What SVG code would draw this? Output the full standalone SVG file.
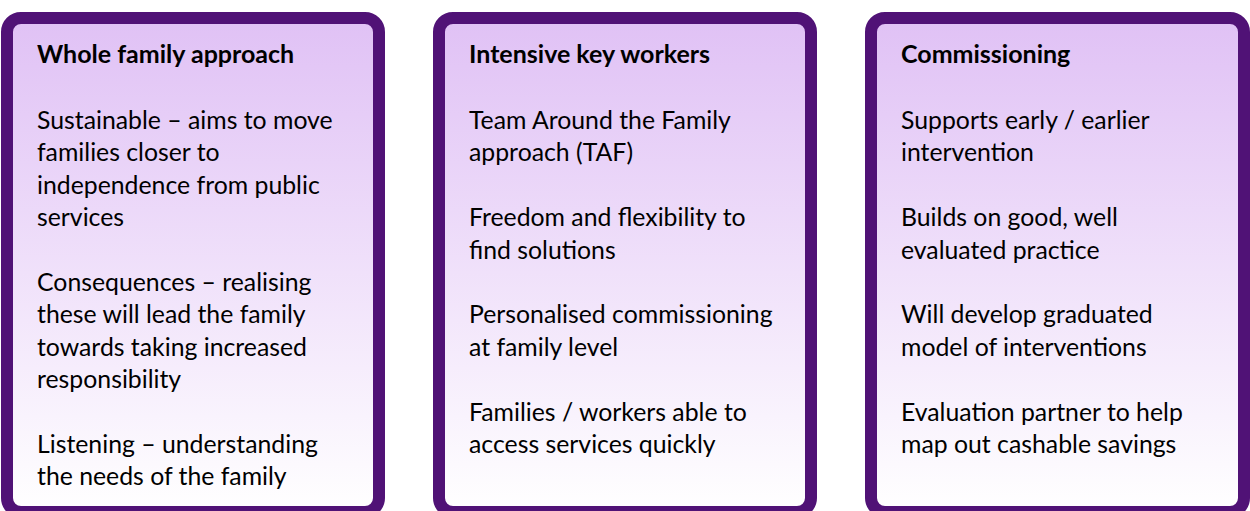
<svg xmlns="http://www.w3.org/2000/svg" width="1250" height="511" viewBox="0 0 1250 511">
<defs>
<linearGradient id="fill" x1="0" y1="0" x2="0" y2="1">
<stop offset="0" stop-color="#E0C1F5"/>
<stop offset="1" stop-color="#FFFFFF"/>
</linearGradient>
<style>
.box{fill:url(#fill);stroke:#501276;stroke-width:12}
.t{font-family:Lato,"Open Sans",sans-serif;font-size:24.8px;fill:#000}
.h{font-family:Lato,"Open Sans",sans-serif;font-size:25px;font-weight:bold;fill:#000}
</style>
</defs>
<rect width="1250" height="511" fill="#FFFFFF"/>
<g id="node-whole-family">
<rect class="box" x="7" y="18" width="372" height="494" rx="14"/>
<text class="h" x="37" y="63">Whole family approach</text>
<text class="t" x="37" y="129">Sustainable – aims to move</text>
<text class="t" x="37" y="161.4">families closer to</text>
<text class="t" x="37" y="193.8">independence from public</text>
<text class="t" x="37" y="226.2">services</text>
<text class="t" x="37" y="291">Consequences – realising</text>
<text class="t" x="37" y="323.4">these will lead the family</text>
<text class="t" x="37" y="355.8">towards taking increased</text>
<text class="t" x="37" y="388.2">responsibility</text>
<text class="t" x="37" y="453">Listening – understanding</text>
<text class="t" x="37" y="485.4">the needs of the family</text>
</g>
<g id="node-key-workers">
<rect class="box" x="439" y="18" width="372" height="494" rx="14"/>
<text class="h" x="469" y="63">Intensive key workers</text>
<text class="t" x="469" y="129">Team Around the Family</text>
<text class="t" x="469" y="161.4">approach (TAF)</text>
<text class="t" x="469" y="226.2">Freedom and flexibility to</text>
<text class="t" x="469" y="258.6">find solutions</text>
<text class="t" x="469" y="323.4">Personalised commissioning</text>
<text class="t" x="469" y="355.8">at family level</text>
<text class="t" x="469" y="420.6">Families / workers able to</text>
<text class="t" x="469" y="453">access services quickly</text>
</g>
<g id="node-commissioning">
<rect class="box" x="871" y="18" width="373" height="494" rx="14"/>
<text class="h" x="901" y="63">Commissioning</text>
<text class="t" x="901" y="129">Supports early / earlier</text>
<text class="t" x="901" y="161.4">intervention</text>
<text class="t" x="901" y="226.2">Builds on good, well</text>
<text class="t" x="901" y="258.6">evaluated practice</text>
<text class="t" x="901" y="323.4">Will develop graduated</text>
<text class="t" x="901" y="355.8">model of interventions</text>
<text class="t" x="901" y="420.6">Evaluation partner to help</text>
<text class="t" x="901" y="453">map out cashable savings</text>
</g>
<g id="connectors"/>
</svg>
